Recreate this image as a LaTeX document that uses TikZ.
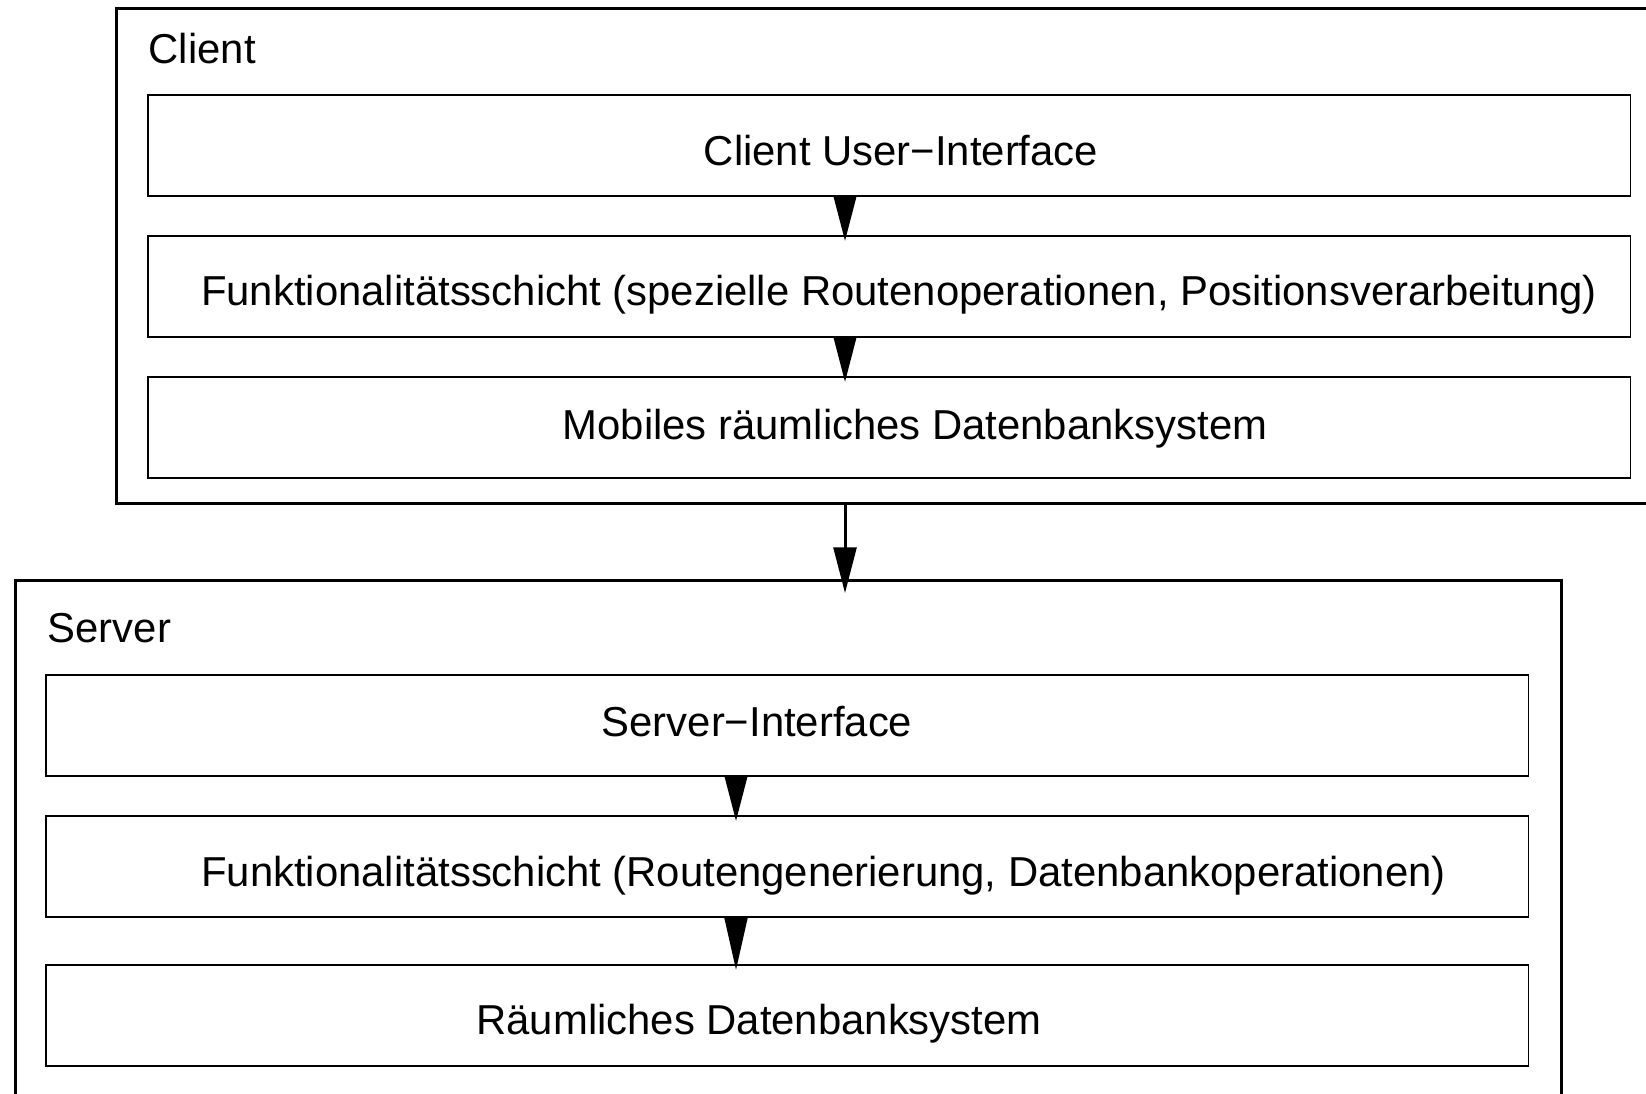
\documentclass[tikz,border=0pt]{standalone}
\usepackage{fontspec}
\setmainfont{Liberation Sans}
\usetikzlibrary{arrows.meta}

\tikzset{
  tier/.style={draw, line width=0.9pt, anchor=north west, inner sep=0pt},
  layer/.style={draw, line width=0.45pt, anchor=north west, inner sep=0pt,
    minimum width=14.82cm, minimum height=1.01cm},
  txt/.style={anchor=base, inner sep=0pt, font=\fontsize{11.9}{14}\selectfont},
  flow/.style={-{Triangle[length=13pt,width=6.5pt]}, line width=0.85pt}
}

\begin{document}
\begin{tikzpicture}[x=0.01cm, y=-0.01cm]
  \useasboundingbox (0,0) rectangle (1646,1093);
  \begin{scope}
    \clip (0,0) rectangle (1646,1093);
    % client side
    \node[tier, minimum width=16cm, minimum height=4.95cm] (client) at (115,7) {};
    \node[txt, anchor=base west] (clientname) at (148,63) {Client};
    \node[layer] (cui) at (147,94) {};
    \node[layer] (cfkt) at (147,235) {};
    \node[layer] (cdb) at (147,376) {};
    \node[txt] (cuitext) at (901,165) {Client User−Interface};
    \node[txt] (cfkttext) at (899,305.5) {Funktionalitätsschicht (spezielle Routenoperationen, Positionsverarbeitung)};
    \node[txt] (cdbtext) at (915,439) {Mobiles räumliches Datenbanksystem};
    % server side
    \node[tier, minimum width=15.45cm, minimum height=6cm] (server) at (14,579) {};
    \node[txt, anchor=base west] (servername) at (47,642) {Server};
    \node[layer] (sif) at (45,674) {};
    \node[layer] (sfkt) at (45,815) {};
    \node[layer] (sdb) at (45,964) {};
    \node[txt] (siftext) at (757,736) {Server−Interface};
    \node[txt] (sfkttext) at (823.5,886) {Funktionalitätsschicht (Routengenerierung, Datenbankoperationen)};
    \node[txt] (sdbtext) at (759,1034) {Räumliches Datenbanksystem};
  \end{scope}
  \coordinate (ca) at (845,0);
  \coordinate (sa) at (736,0);
  \begin{scope}[flow]
    \draw[shorten >=-1.7pt] (cui.south -| ca) to (cfkt.north -| ca);
    \draw[shorten >=-1.7pt] (cfkt.south -| ca) to (cdb.north -| ca);
    \draw[shorten >=-4pt] (client.south -| ca) to (server.north -| ca);
    \draw[shorten >=-1.7pt] (sif.south -| sa) to (sfkt.north -| sa);
    \draw[shorten >=-1.7pt, -{Triangle[length=15pt,width=6.5pt]}] (sfkt.south -| sa) to (sdb.north -| sa);
  \end{scope}
\end{tikzpicture}
\end{document}
